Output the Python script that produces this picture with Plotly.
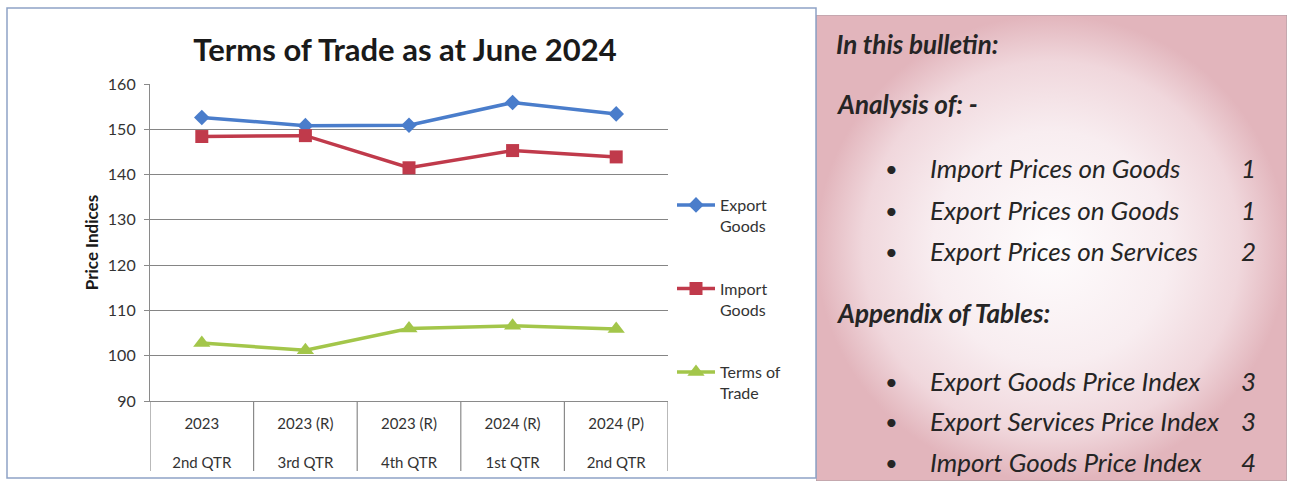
import plotly.graph_objects as go

W, H = 1293, 481

# ---- data ----
years = ["2023", "2023 (R)", "2023 (R)", "2024 (R)", "2024 (P)"]
quarters = ["2nd QTR", "3rd QTR", "4th QTR", "1st QTR", "2nd QTR"]
export_goods = [152.6, 150.8, 150.9, 155.9, 153.4]
import_goods = [148.4, 148.6, 141.5, 145.3, 143.9]
terms_of_trade = [102.8, 101.2, 106.0, 106.6, 105.9]
y_ticks = [90, 100, 110, 120, 130, 140, 150, 160]

bulletin_heading = "In this bulletin:"
analysis_heading = "Analysis of: -"
analysis_items = ["Import Prices on Goods", "Export Prices on Goods", "Export Prices on Services"]
analysis_pages = ["1", "1", "2"]
appendix_heading = "Appendix of Tables:"
appendix_items = ["Export Goods Price Index", "Export Services Price Index", "Import Goods Price Index"]
appendix_pages = ["3", "3", "4"]

def px(x):
    return x / W

def py(y):
    return (H - y) / H

FONT = "Lato, 'Open Sans', sans-serif"
cats = list(range(len(years)))

fig = go.Figure()

# right-hand panel background (decoration) on its own hidden axes
fig.add_trace(go.Scatter(
    x=[0, 1, 1, 0, 0], y=[0, 0, 1, 1, 0], xaxis="x2", yaxis="y2",
    mode="lines", fill="toself",
    line=dict(color="#a99aa1", width=1),
    fillgradient=dict(type="radial",
                      colorscale=[[0, "#fefcfd"], [0.5, "#f8edf0"], [0.8, "#f0d7dc"], [1, "#e2b5bc"]]),
    hoverinfo="skip", showlegend=False))

series = [
    ("Export<br>Goods", export_goods, "#4A7DCB", "diamond", 12),
    ("Import<br>Goods", import_goods, "#C03A4B", "square", 13),
    ("Terms of<br>Trade", terms_of_trade, "#A3C64A", "triangle-up", 15),
]
for i, (name, vals, col, sym, sz) in enumerate(series):
    fig.add_trace(go.Scatter(
        x=cats, y=vals, name=name, mode="lines+markers", legendgroup=str(i),
        line=dict(color=col, width=3.5),
        marker=dict(symbol=sym, size=sz, color=col)))

ticktext = [f"{y}<br><br>{q}" for y, q in zip(years, quarters)]

shapes = []
# chart frame
shapes.append(dict(type="rect", xref="paper", yref="paper",
                   x0=px(7), x1=px(816), y0=py(478), y1=py(8),
                   line=dict(color="#8ea3c6", width=1.5)))
# category table dividers
for b in range(len(years) + 1):
    shapes.append(dict(type="line", xref="x", yref="paper",
                       x0=b - 0.5, x1=b - 0.5, y0=py(471), y1=py(401),
                       line=dict(color="#8a8a8a", width=1.2)))

annotations = []
TXT = "#252525"
HEAD = dict(family=FONT, size=26, color=TXT, weight="bold", style="italic")
ITEM = dict(family=FONT, size=26, color=TXT, style="italic")
annotations.append(dict(x=px(834), y=py(44), xref="paper", yref="paper", xanchor="left", yanchor="middle",
                        text=bulletin_heading, showarrow=False, font=HEAD))
annotations.append(dict(x=px(834), y=py(104), xref="paper", yref="paper", xanchor="left", yanchor="middle",
                        text=analysis_heading, showarrow=False, font=HEAD))
annotations.append(dict(x=px(834), y=py(313), xref="paper", yref="paper", xanchor="left", yanchor="middle",
                        text=appendix_heading, showarrow=False, font=HEAD))
for items, pages, ys in [(analysis_items, analysis_pages, [168, 210, 251]),
                         (appendix_items, appendix_pages, [381, 421, 462])]:
    for it, pg, yy in zip(items, pages, ys):
        annotations.append(dict(x=px(891), y=py(yy), xref="paper", yref="paper", xanchor="center",
                                yanchor="middle", text="•", showarrow=False,
                                font=dict(family=FONT, size=22, color=TXT)))
        annotations.append(dict(x=px(928), y=py(yy), xref="paper", yref="paper", xanchor="left",
                                yanchor="middle", text=it, showarrow=False, font=ITEM))
        annotations.append(dict(x=px(1258), y=py(yy), xref="paper", yref="paper", xanchor="right",
                                yanchor="middle", text=pg, showarrow=False, font=ITEM))

fig.update_layout(
    width=W, height=H,
    margin=dict(l=0, r=0, t=0, b=0),
    paper_bgcolor="white", plot_bgcolor="white",
    font=dict(family=FONT, color="#333333"),
    title=dict(text="<b>Terms of Trade as at June 2024</b>", x=px(405), xanchor="center",
               y=py(50), yanchor="middle", xref="paper", yref="paper",
               font=dict(family=FONT, size=31, color="#1a1a1a")),
    xaxis=dict(domain=[px(150), px(668)], range=[-0.5, 4.5], tickvals=cats, ticktext=ticktext,
               showgrid=False, zeroline=False, showline=True, linecolor="#8a8a8a", linewidth=1.2,
               ticks="", tickfont=dict(family=FONT, size=15, color="#333333"), automargin=False,
               ticklabelstandoff=9, fixedrange=True),
    yaxis=dict(domain=[py(401), py(84)], range=[90, 160], tickvals=y_ticks,
               showgrid=True, gridcolor="#858585", gridwidth=1.3, zeroline=False,
               showline=True, linecolor="#8a8a8a", linewidth=1.2,
               ticks="outside", ticklen=5, tickcolor="#8a8a8a", ticklabelstandoff=5,
               tickfont=dict(family=FONT, size=16, color="#333333"), automargin=False,
               title=dict(text="<b>Price Indices</b>", standoff=4,
                          font=dict(family=FONT, size=17, color="#1a1a1a"))),
    xaxis2=dict(domain=[px(816), px(1287)], range=[0, 1], visible=False, fixedrange=True),
    yaxis2=dict(domain=[0, py(15)], range=[0, 1], visible=False, fixedrange=True),
    legend=dict(x=px(672), y=py(188), xanchor="left", yanchor="top", valign="top",
                itemwidth=38,
                font=dict(family=FONT, size=16, color="#333333"), tracegroupgap=39,
                bgcolor="rgba(0,0,0,0)"),
    shapes=shapes, annotations=annotations, showlegend=True,
)

fig.write_html("out.html")
